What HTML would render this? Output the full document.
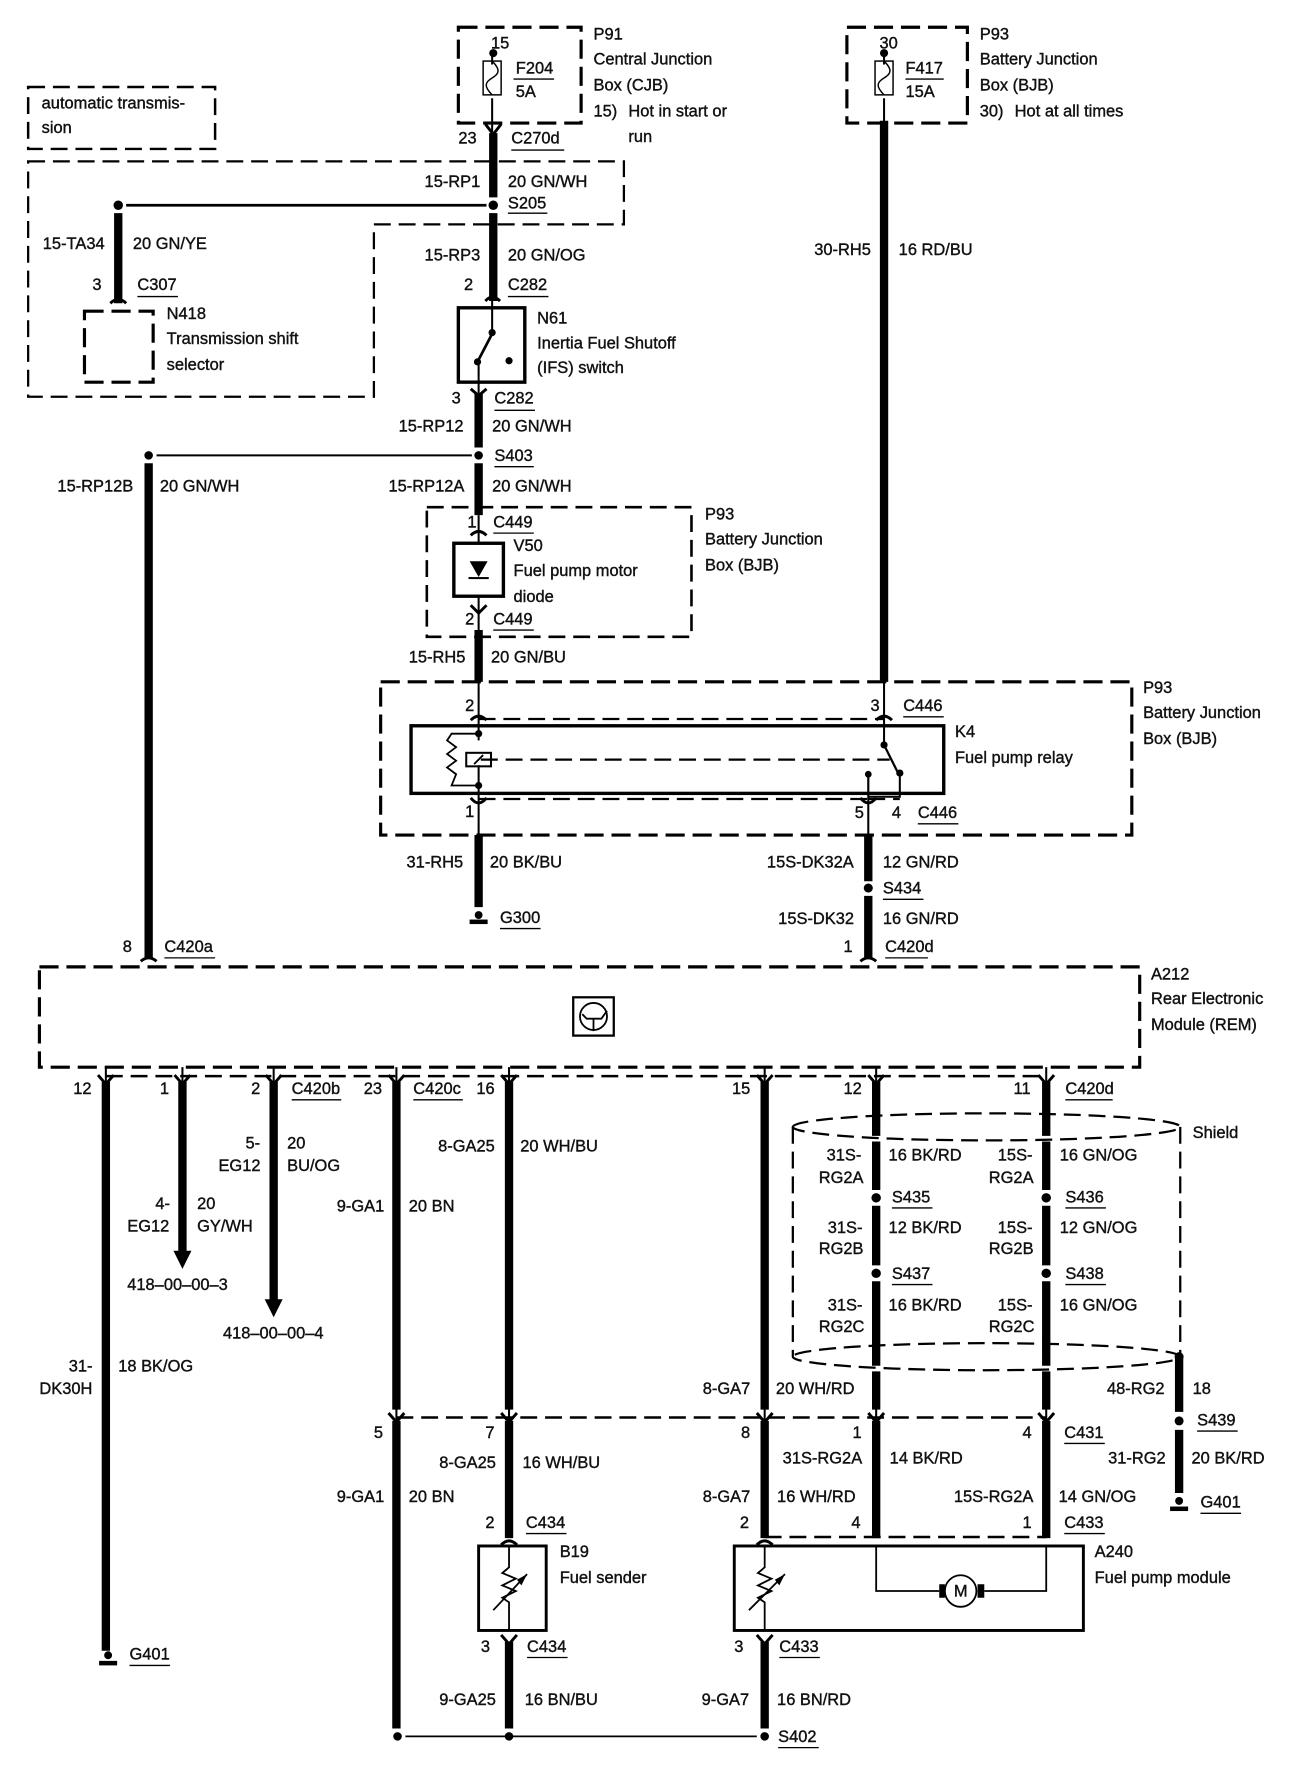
<!DOCTYPE html>
<html><head><meta charset="utf-8"><style>
html,body{margin:0;padding:0;background:#fff}
svg{display:block;position:absolute;left:0;top:0}
text{font-family:"Liberation Sans",sans-serif;font-size:14.6px;fill:#111;stroke:#111;stroke-width:.35}
</style></head><body>
<svg xmlns="http://www.w3.org/2000/svg" width="1312" height="1766" viewBox="0 0.8 1165 1567.5" preserveAspectRatio="none">
<rect y="0" width="1165" height="1570" fill="#fff"/>
<!-- dashed boxes -->
<g fill="none" stroke="#000" stroke-width="2.8" stroke-dasharray="17 7">
<rect x="407" y="25" width="109" height="85"/>
<rect x="752" y="25" width="107" height="85"/>
<rect x="75" y="277" width="61" height="63"/>
<rect x="338" y="606" width="667" height="136"/>
<rect x="35" y="859" width="977" height="89"/>
</g>
<g fill="none" stroke="#000" stroke-width="2" stroke-dasharray="15 7">
<rect x="25" y="78" width="166" height="55" stroke-width="2.2"/>
<path d="M25 144H554V200H332V353H25Z"/>
<rect x="379" y="451" width="235" height="115" stroke-width="2.3"/>
<path d="M425 639H785M425 710H771M771 710H799"/>
<path d="M427 675H790"/>
<path d="M94 956H929" stroke-width="2.2"/>
<path d="M352 1259H929M679 1365H929" stroke-width="2.2"/>
<path d="M704 1001A172 12 0 0 1 1048 1001A172 12 0 0 1 704 1001Z"/>
<path d="M704 1001V1205A172 12 0 0 0 1048 1205A172 12 0 0 0 704 1205"/>
<path d="M1048 1001V1205"/>
</g>
<!-- thick wires -->
<g fill="none" stroke="#000" stroke-width="7.4">
<path d="M438 119V176M438 190V268"/>
<path d="M105 190V270"/>
<path d="M425 350V398M425 412V458M425 560V606"/>
<path d="M785 108V606"/>
<path d="M132 412V852"/>
<path d="M425 742V806"/>
<path d="M771 742V783M771 796V852"/>
<path d="M94 961V1466"/>
<path d="M162 961V1112M243 961V1155"/>
<path d="M352 961V1252M352 1262V1535"/>
<path d="M452 961V1252M452 1262V1366M452 1458V1535"/>
<path d="M679 961V1252M679 1262V1366M679 1458V1535"/>
<path d="M778 961V1009M778 1014V1057M778 1071V1124M778 1138V1213M778 1218V1252M778 1262V1366"/>
<path d="M929 961V1009M929 1014V1057M929 1071V1124M929 1138V1213M929 1218V1252M929 1262V1366"/>
<path d="M1047 1205V1254M1047 1270V1326"/>
</g>
<!-- thin wires -->
<g fill="none" stroke="#000" stroke-width="1.8">
<path d="M437 48V58M437 88V119"/>
<path d="M785 48V58M785 88V110"/>
<path d="M425 458V482M425 530V560"/>
<path d="M425 606V658M425 680V742"/>
<path d="M785 606V662M771 690V742M799 690V708H771"/>
<path d="M437 268V296M425 322V350"/>
<path d="M94 948V961M162 948V961M243 948V961M352 948V961M452 948V961M679 948V961M778 948V961M929 948V961"/>
<path d="M352 1250V1262M452 1250V1262M679 1250V1262M778 1250V1262M929 1250V1262"/>
</g>
<g fill="none" stroke="#000" stroke-width="2.4">
<path d="M112 183H432"/>
<path d="M139 405H419" stroke-width="1.8"/>
<path d="M360 1542H672" stroke-width="1.6"/>
<path d="M437 297L424 322"/>
<path d="M785 662L798 688" stroke-width="2"/>
<rect x="407" y="274" width="59" height="66" stroke-width="3"/>
<rect x="403" y="483" width="44" height="47" stroke-width="3"/>
<rect x="365" y="645" width="473" height="60" stroke-width="3"/>
<rect x="425" y="1373" width="60" height="75" stroke-width="2.6"/>
<rect x="652" y="1373" width="310" height="75" stroke-width="2.6"/>
<rect x="509" y="886" width="36" height="34" stroke-width="2"/>
</g>
<!-- fuses -->
<g fill="none" stroke="#000" stroke-width="1.3">
<rect x="429" y="55" width="16" height="30"/>
<rect x="777" y="55" width="16" height="30"/>
<path d="M437 55C444 62 444 66 437 70S430 78 437 85M785 55C792 62 792 66 785 70S778 78 785 85"/>
</g>
<!-- dots -->
<g fill="#000">
<circle cx="438" cy="48" r="3.6"/><circle cx="785" cy="48" r="3.6"/>
<circle cx="438" cy="183" r="4.2"/><circle cx="105" cy="183" r="4.2"/>
<circle cx="425" cy="405" r="3.8"/><circle cx="132" cy="405" r="3.8"/>
<circle cx="437" cy="296" r="3.2"/><circle cx="424" cy="322" r="3.2"/><circle cx="452" cy="321" r="3.2"/>
<circle cx="771" cy="789" r="4"/>
<circle cx="425" cy="652" r="3.2"/><circle cx="425" cy="698" r="3.2"/>
<circle cx="785" cy="662" r="3.2"/><circle cx="799" cy="687" r="3.2"/><circle cx="771" cy="688" r="3"/>
<circle cx="778" cy="1064" r="4.2"/><circle cx="778" cy="1131" r="4.2"/>
<circle cx="929" cy="1064" r="4.2"/><circle cx="929" cy="1131" r="4.2"/>
<circle cx="1047" cy="1262" r="4"/><circle cx="1047" cy="1205" r="4"/>
<circle cx="353" cy="1542" r="3.8"/><circle cx="452" cy="1542" r="3.8"/><circle cx="679" cy="1542" r="3.8"/>
<!-- grounds -->
<circle cx="425" cy="813" r="3.5"/><rect x="417" y="817" width="16" height="4"/>
<circle cx="1047" cy="1333" r="3.5"/><rect x="1039" y="1338" width="16" height="4"/>
<circle cx="96" cy="1470" r="3.5"/><rect x="88" y="1475" width="16" height="4"/>
<!-- arrows -->
<path d="M154 1111H170L162 1127Z"/><path d="M235 1154H251L243 1170Z"/>
<!-- diode -->
<path d="M417 499H433L425 513Z"/><rect x="416" y="513" width="18" height="1.8"/>
</g>
<!-- connector symbols -->
<g fill="none" stroke="#000" stroke-width="2.6">
<path d="M431 111L438 120L445 111M418 346L425 352L432 346"/>
<path d="M431 268Q437 261 444 268M98 270Q105 263 112 270"/>
<path d="M418 476Q425 469 432 476M418 538L425 545L432 538"/>
<path d="M418 640Q425 633 432 640M778 640Q785 633 792 640M418 709Q425 718 432 709M764 709Q771 718 778 709"/>
<path d="M125 854Q132 848 139 854M764 854Q771 848 778 854"/>
<path d="M87 955L94 963L101 955M155 955L162 963L169 955M236 955L243 963L250 955M345 955L352 963L359 955M445 955L452 963L459 955M672 955L679 963L686 955M771 955L778 963L785 955M922 955L929 963L936 955"/>
<path d="M345 1255L352 1263L359 1255M445 1255L452 1263L459 1255M672 1255L679 1263L686 1255M771 1255L778 1263L785 1255M922 1255L929 1263L936 1255"/>
<path d="M445 1372Q452 1365 459 1372M672 1372Q679 1365 686 1372"/>
<path d="M445 1452L452 1460L459 1452M672 1452L679 1460L686 1452"/>
</g>
<!-- relay internals -->
<g fill="none" stroke="#000" stroke-width="1.6">
<rect x="414" y="669" width="22" height="12" stroke-width="1.8"/>
<path d="M421 679L429 671"/>
<path d="M425 652H401L397 658L405 664L397 670L405 676L397 682L405 688L401 698H425"/>
<path d="M771 688V708"/>
<!-- sender -->
<path d="M452 1373V1392L446 1397L458 1402L446 1408L458 1413L446 1419L452 1423V1448"/>
<path d="M438 1430L468 1398"/>
<path d="M679 1373V1392L673 1397L685 1402L673 1408L685 1413L673 1419L679 1423V1448"/>
<path d="M665 1430L697 1398"/>
<path d="M778 1373V1413H834M929 1373V1413H874"/>
<circle cx="853" cy="1413" r="14"/>
<!-- module symbol -->
<circle cx="527" cy="903" r="12"/>
<path d="M517 901L521 905H534L539 898M527 905V916"/>
</g>
<path d="M468 1398L459 1403L463 1408Z" fill="#000"/>
<path d="M697 1398L688 1403L692 1408Z" fill="#000"/>
<path d="M834 1407h5v12h-5ZM868 1407h6v12h-6Z" fill="#000"/>
<!-- underlines -->
<path fill="none" stroke="#000" stroke-width="1.2" d="M456 71h36M804 71h34M454 134h47M451 190h35M122 264h36M451 264h36M439 365h36M439 415h35M438 474h36M438 560h36M802 637h36M815 732h36M444 825h36M784 799h36M786 851h38M146 851h45M259 977h44M367 977h44M946 977h42M792 1073h36M946 1073h36M792 1141h36M946 1141h36M1063 1271h36M945 1282h36M1066 1344h36M467 1362h36M945 1362h36M468 1472h36M692 1472h36M115 1479h36M691 1552h36"/>
<!-- labels -->
<text x="527" y="36">P91</text><text x="527" y="58">Central Junction</text><text x="527" y="81">Box (CJB)</text><text x="527" y="104">15)</text><text x="558" y="104">Hot in start or</text><text x="558" y="127">run</text>
<text x="458" y="66">F204</text><text x="458" y="87">5A</text><text x="436" y="44">15</text>
<text x="870" y="36">P93</text><text x="870" y="58">Battery Junction</text><text x="870" y="81">Box (BJB)</text><text x="870" y="104">30)</text><text x="901" y="104">Hot at all times</text>
<text x="804" y="66">F417</text><text x="804" y="87">15A</text><text x="781" y="44">30</text>
<text x="37" y="97">automatic transmis-</text><text x="37" y="119">sion</text>
<text x="407" y="128">23</text><text x="454" y="128">C270d</text>
<text x="377" y="167">15-RP1</text><text x="451" y="167">20 GN/WH</text><text x="451" y="186">S205</text>
<text x="38" y="222">15-TA34</text><text x="118" y="222">20 GN/YE</text><text x="82" y="258">3</text><text x="122" y="258">C307</text>
<text x="148" y="284">N418</text><text x="148" y="306">Transmission shift</text><text x="148" y="329">selector</text>
<text x="723" y="227">30-RH5</text><text x="798" y="227">16 RD/BU</text>
<text x="377" y="232">15-RP3</text><text x="451" y="232">20 GN/OG</text><text x="412" y="258">2</text><text x="451" y="258">C282</text>
<text x="477" y="288">N61</text><text x="477" y="310">Inertia Fuel Shutoff</text><text x="477" y="332">(IFS) switch</text>
<text x="401" y="359">3</text><text x="439" y="359">C282</text><text x="354" y="384">15-RP12</text><text x="437" y="384">20 GN/WH</text><text x="439" y="410">S403</text>
<text x="51" y="437">15-RP12B</text><text x="142" y="437">20 GN/WH</text><text x="345" y="437">15-RP12A</text><text x="437" y="437">20 GN/WH</text>
<text x="415" y="469">1</text><text x="438" y="469">C449</text><text x="456" y="490">V50</text><text x="456" y="512">Fuel pump motor</text><text x="456" y="535">diode</text><text x="413" y="555">2</text><text x="438" y="555">C449</text>
<text x="626" y="462">P93</text><text x="626" y="484">Battery Junction</text><text x="626" y="507">Box (BJB)</text>
<text x="363" y="589">15-RH5</text><text x="436" y="589">20 GN/BU</text>
<text x="1015" y="616">P93</text><text x="1015" y="638">Battery Junction</text><text x="1015" y="661">Box (BJB)</text>
<text x="413" y="632">2</text><text x="773" y="632">3</text><text x="802" y="632">C446</text><text x="848" y="655">K4</text><text x="848" y="678">Fuel pump relay</text><text x="413" y="726">1</text><text x="759" y="727">5</text><text x="792" y="727">4</text><text x="815" y="727">C446</text>
<text x="361" y="771">31-RH5</text><text x="435" y="771">20 BK/BU</text><text x="681" y="771">15S-DK32A</text><text x="784" y="771">12 GN/RD</text><text x="784" y="794">S434</text><text x="691" y="821">15S-DK32</text><text x="784" y="821">16 GN/RD</text><text x="749" y="846">1</text><text x="786" y="846">C420d</text><text x="109" y="846">8</text><text x="146" y="846">C420a</text><text x="444" y="820">G300</text>
<text x="1022" y="870">A212</text><text x="1022" y="892">Rear Electronic</text><text x="1022" y="915">Module (REM)</text>
<text x="65" y="972">12</text><text x="142" y="972">1</text><text x="223" y="972">2</text><text x="259" y="972">C420b</text><text x="323" y="972">23</text><text x="367" y="972">C420c</text><text x="423" y="972">16</text><text x="650" y="972">15</text><text x="749" y="972">12</text><text x="900" y="972">11</text><text x="946" y="972">C420d</text>
<text x="218" y="1020">5-</text><text x="194" y="1040">EG12</text><text x="255" y="1020">20</text><text x="255" y="1040">BU/OG</text>
<text x="138" y="1074">4-</text><text x="113" y="1094">EG12</text><text x="175" y="1074">20</text><text x="175" y="1094">GY/WH</text>
<text x="113" y="1146">418–00–00–3</text><text x="198" y="1189">418–00–00–4</text>
<text x="389" y="1023">8-GA25</text><text x="462" y="1023">20 WH/BU</text><text x="299" y="1076">9-GA1</text><text x="363" y="1076">20 BN</text>
<text x="734" y="1031">31S-</text><text x="727" y="1051">RG2A</text><text x="789" y="1031">16 BK/RD</text><text x="886" y="1031">15S-</text><text x="878" y="1051">RG2A</text><text x="941" y="1031">16 GN/OG</text>
<text x="792" y="1068">S435</text><text x="946" y="1068">S436</text>
<text x="735" y="1095">31S-</text><text x="727" y="1114">RG2B</text><text x="789" y="1095">12 BK/RD</text><text x="886" y="1095">15S-</text><text x="878" y="1114">RG2B</text><text x="941" y="1095">12 GN/OG</text>
<text x="792" y="1136">S437</text><text x="946" y="1136">S438</text>
<text x="735" y="1164">31S-</text><text x="727" y="1183">RG2C</text><text x="789" y="1164">16 BK/RD</text><text x="886" y="1164">15S-</text><text x="878" y="1183">RG2C</text><text x="941" y="1164">16 GN/OG</text>
<text x="1059" y="1011">Shield</text>
<text x="61" y="1218">31-</text><text x="35" y="1238">DK30H</text><text x="105" y="1218">18 BK/OG</text>
<text x="624" y="1238">8-GA7</text><text x="689" y="1238">20 WH/RD</text><text x="983" y="1238">48-RG2</text><text x="1059" y="1238">18</text><text x="1063" y="1266">S439</text>
<text x="332" y="1277">5</text><text x="431" y="1277">7</text><text x="658" y="1277">8</text><text x="757" y="1277">1</text><text x="908" y="1277">4</text><text x="945" y="1277">C431</text>
<text x="390" y="1304">8-GA25</text><text x="464" y="1304">16 WH/BU</text><text x="695" y="1300">31S-RG2A</text><text x="790" y="1300">14 BK/RD</text><text x="984" y="1300">31-RG2</text><text x="1058" y="1300">20 BK/RD</text>
<text x="299" y="1334">9-GA1</text><text x="363" y="1334">20 BN</text><text x="624" y="1334">8-GA7</text><text x="690" y="1334">16 WH/RD</text><text x="847" y="1334">15S-RG2A</text><text x="940" y="1334">14 GN/OG</text><text x="1066" y="1339">G401</text>
<text x="431" y="1357">2</text><text x="467" y="1357">C434</text><text x="657" y="1357">2</text><text x="756" y="1357">4</text><text x="908" y="1357">1</text><text x="945" y="1357">C433</text>
<text x="497" y="1383">B19</text><text x="497" y="1406">Fuel sender</text><text x="972" y="1383">A240</text><text x="972" y="1406">Fuel pump module</text>
<text x="847" y="1418">M</text>
<text x="427" y="1467">3</text><text x="468" y="1467">C434</text><text x="652" y="1467">3</text><text x="692" y="1467">C433</text><text x="115" y="1474">G401</text>
<text x="390" y="1514">9-GA25</text><text x="466" y="1514">16 BN/BU</text><text x="623" y="1514">9-GA7</text><text x="690" y="1514">16 BN/RD</text><text x="691" y="1547">S402</text>
</svg>
</body></html>
